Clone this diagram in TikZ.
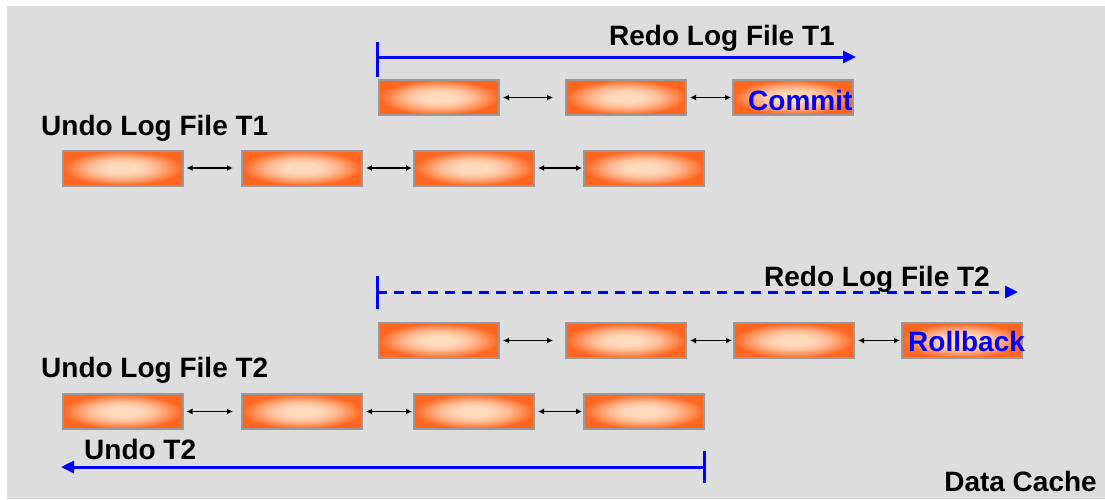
\documentclass[tikz,border=0pt]{standalone}
\usepackage{fontspec}
\setmainfont{Liberation Sans}
\usepackage{tikz}
\usetikzlibrary{arrows.meta}
\definecolor{cachegray}{HTML}{DDDDDD}
\definecolor{recedge}{HTML}{FF6620}
\definecolor{reccore}{HTML}{FFD9BC}
\definecolor{recframe}{HTML}{999999}
\pgfdeclareradialshading{recshade}{\pgfpoint{0bp}{0bp}}{color(0bp)=(reccore); color(7bp)=(reccore); color(14bp)=(reccore!75!recedge); color(20bp)=(reccore!35!recedge); color(25bp)=(recedge); color(50bp)=(recedge)}
\tikzstyle{record} = [draw=recframe, line width=2pt, shading=recshade, minimum width=120pt, minimum height=35pt, inner sep=0pt]
\tikzstyle{link} = [draw, black, line width=1.4pt, {Latex[length=6pt,width=6pt]}-{Latex[length=6pt,width=6pt]}, shorten <=3pt, shorten >=1pt]
\tikzstyle{timeline} = [draw, blue, line width=3pt, -{Triangle[length=13pt,width=12pt]}]
\tikzstyle{tick} = [draw, blue, line width=3pt]
\tikzstyle{label} = [anchor=base west, inner sep=0pt, font=\fontsize{28}{30}\selectfont\bfseries]

\begin{document}
\begin{tikzpicture}[x=1pt, y=-1pt]
    \useasboundingbox (0,0) rectangle (1105,499);
    \fill[cachegray] (7,6) rectangle (1105,499);
    % redo log T1
    \node[record] (r1a) at (439,97.5) {};
    \node[record] (r1b) at (626,97.5) {};
    \node[record] (r1c) at (793,97.5) {};
    \path[link, shorten >=12pt] (r1a) -- (r1b);
    \path[link] (r1b) -- (r1c);
    \node[label, blue] (commit) at (748,110) {Commit};
    \coordinate (redo1start) at (377,57);
    \coordinate (redo1end) at (856,57);
    \path[timeline] (redo1start) -- (redo1end);
    \path[tick] ([yshift=15pt]redo1start) -- ([yshift=-20pt]redo1start);
    \node[label] (redo1label) at (609,45) {Redo Log File T1};
    % undo log T1
    \node[label] (undo1label) at (41,135) {Undo Log File T1};
    \node[record] (u1a) at (122.5,168) {};
    \node[record] (u1b) at (302,168) {};
    \node[record] (u1c) at (474,168) {};
    \node[record] (u1d) at (644,168) {};
    \path[link, shorten >=8pt] (u1a) -- (u1b);
    \path[link] (u1b) -- (u1c);
    \path[link] (u1c) -- (u1d);
    % redo log T2
    \node[record] (r2a) at (439,340.5) {};
    \node[record] (r2b) at (626,340.5) {};
    \node[record] (r2c) at (794,340.5) {};
    \node[record] (r2d) at (962,340.5) {};
    \path[link, shorten >=12pt] (r2a) -- (r2b);
    \path[link] (r2b) -- (r2c);
    \path[link] (r2c) -- (r2d);
    \node[label, blue] (rollback) at (908,351) {Rollback};
    \coordinate (redo2start) at (377,292);
    \coordinate (redo2end) at (1018,292);
    \path[timeline, dash pattern=on 10pt off 7pt] (redo2start) -- (redo2end);
    \path[tick] ([yshift=16pt]redo2start) -- ([yshift=-17pt]redo2start);
    \node[label] (redo2label) at (764,286) {Redo Log File T2};
    % undo log T2
    \node[label] (undo2label) at (41,377) {Undo Log File T2};
    \node[record] (u2a) at (122.5,411.5) {};
    \node[record] (u2b) at (302,411.5) {};
    \node[record] (u2c) at (474,411.5) {};
    \node[record] (u2d) at (644,411.5) {};
    \path[link, shorten >=8pt] (u2a) -- (u2b);
    \path[link] (u2b) -- (u2c);
    \path[link] (u2c) -- (u2d);
    \coordinate (undo2start) at (704,467);
    \coordinate (undo2end) at (61,467);
    \path[timeline] (undo2start) -- (undo2end);
    \path[tick] ([yshift=16pt]undo2start) -- ([yshift=-16pt]undo2start);
    \node[label] (undo2tag) at (84,459) {Undo T2};
    \node[label, anchor=base east] (cache) at (1097,491) {Data Cache};
\end{tikzpicture}
\end{document}
